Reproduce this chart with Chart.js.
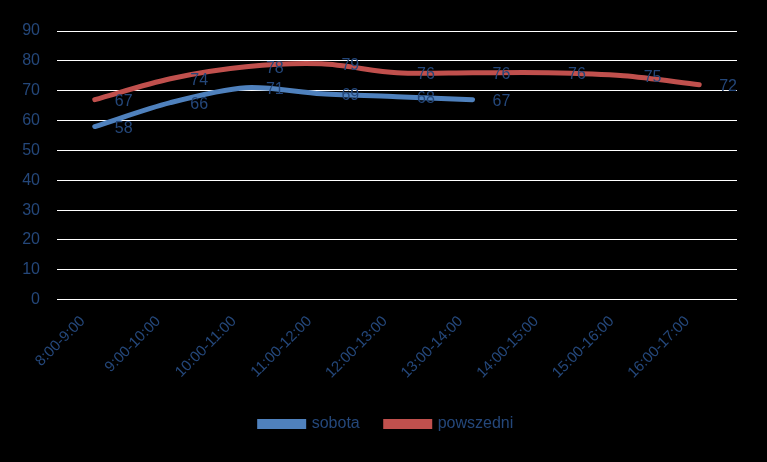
<!DOCTYPE html>
<html><head><meta charset="utf-8">
<script src="https://cdn.jsdelivr.net/npm/chart.js@4"></script>
<style>html,body{margin:0;padding:0;background:#000;}#wrap{width:767px;height:462px;}</style>
</head><body><div id="wrap"><canvas id="c" width="767" height="462"></canvas></div>
<script>
const categories = ["8:00-9:00","9:00-10:00","10:00-11:00","11:00-12:00","12:00-13:00","13:00-14:00","14:00-15:00","15:00-16:00","16:00-17:00"];
const sobota = [58, 66, 71, 69, 68, 67];
const powszedni = [67, 74, 78, 79, 76, 76, 76, 75, 72];
const seriesNames = ["sobota", "powszedni"];
const textColor = "#24477A";
const fontFamily = "'Liberation Sans', Arial, sans-serif";

const labelPlugin = {
  id: 'dlabels',
  afterLayout(chart) {
    if (chart.legend) {
      chart.legend.left += 18; chart.legend.right += 18;
      chart.legend.top += 3; chart.legend.bottom += 3;
    }
  },
  afterDatasetsDraw(chart) {
    const ctx = chart.ctx;
    ctx.save();
    ctx.font = "16px " + fontFamily;
    ctx.fillStyle = textColor;
    ctx.textAlign = "left";
    ctx.textBaseline = "middle";
    chart.data.datasets.forEach((ds, i) => {
      const meta = chart.getDatasetMeta(i);
      meta.data.forEach((pt, j) => {
        const v = ds.data[j];
        if (v == null) return;
        ctx.fillText(String(v), pt.x + 20, pt.y + 2);
      });
    });
    ctx.restore();
  }
};

new Chart(document.getElementById('c'), {
  type: 'line',
  data: {
    labels: categories,
    datasets: [
      {label: seriesNames[0], data: sobota, borderColor: "#4F81BD", backgroundColor: "#4F81BD", borderWidth: 5, pointRadius: 0, tension: 0.3, borderCapStyle: 'round', fill: false},
      {label: seriesNames[1], data: powszedni, borderColor: "#C0504D", backgroundColor: "#C0504D", borderWidth: 5, pointRadius: 0, tension: 0.3, borderCapStyle: 'round', fill: false}
    ]
  },
  options: {
    responsive: false,
    animation: false,
    devicePixelRatio: 1,
    layout: {padding: {left: 0, right: 30, top: 31, bottom: 23}},
    plugins: {
      legend: {
        position: 'bottom',
        labels: {color: textColor, font: {size: 16, family: fontFamily}, boxWidth: 44, boxHeight: 5, padding: 26}
      },
      tooltip: {enabled: false}
    },
    scales: {
      x: {
        offset: true,
        grid: {display: false},
        border: {display: false},
        ticks: {color: textColor, font: {size: 15, family: fontFamily}, minRotation: 45, maxRotation: 45, padding: 5, labelOffset: -12}
      },
      y: {
        min: 0, max: 90,
        afterFit(s) { s.width = 57; },
        grid: {color: "#FFFFFF", lineWidth: 1, drawTicks: false},
        border: {display: false},
        ticks: {stepSize: 10, color: textColor, font: {size: 16, family: fontFamily}, padding: 17}
      }
    }
  },
  plugins: [labelPlugin]
});
</script></body></html>
